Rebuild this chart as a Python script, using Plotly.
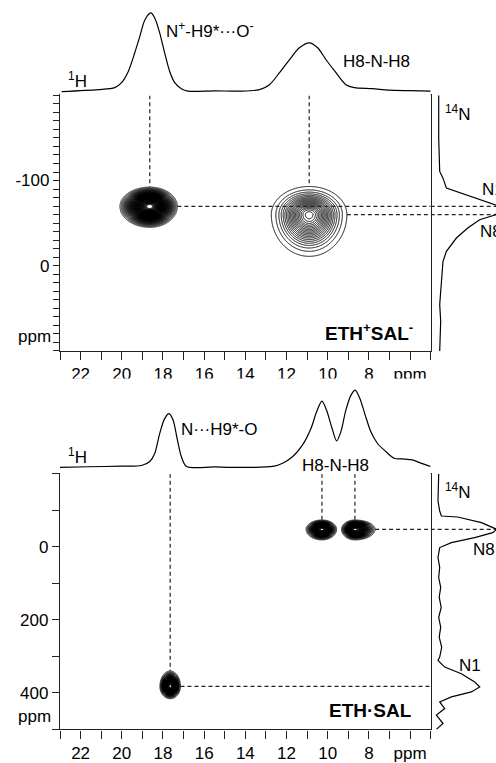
import numpy as np
import plotly.graph_objects as go

W, H = 496, 763
FONT = "Liberation Sans, Arial, sans-serif"

# ---------------- data ----------------
# 1H projection, ETH+SAL- (ppm, intensity in arbitrary units)
h1_top_ppm = [22.92, 21.15, 20.34, 20.01, 19.69, 19.37, 19.13, 18.88, 18.59, 18.40, 18.16, 17.92,
              17.67, 17.43, 17.11, 16.79, 15.5, 14.28, 13.31, 12.83, 12.34, 11.86, 11.38, 10.89,
              10.49, 10.08, 9.60, 9.12, 8.71, 7.83, 7.02, 6.0, 5.0]
h1_top_int = [0, 2, 4, 9, 20, 39, 55, 72, 79, 74, 59, 39,
              20, 9, 3, 0.5, 0.8, 0.5, 2, 7, 19, 32, 44, 49,
              44, 32, 19, 7, 4, 3, 1.5, 1, 0.5]

# 1H projection, ETH.SAL
h1_bot_ppm = [23.0, 21.63, 20.01, 19.04, 18.64, 18.40, 18.16, 17.92, 17.71, 17.51, 17.30, 17.11,
              16.86, 15.5, 14.28, 12.67, 12.19, 11.70, 11.22, 10.81, 10.54, 10.28, 10.06, 9.79,
              9.57, 9.36, 9.12, 8.87, 8.67, 8.44, 8.18, 7.91, 7.59, 7.18, 6.78, 6.38, 5.89, 5.48, 5.0]
h1_bot_int = [0, 0.7, 1.3, 2, 6, 14, 34, 49, 54, 47.6, 27.6, 11,
              1, 0.5, 0, 1, 4.3, 11, 22.6, 39.3, 56, 66.6, 57.6, 39.3,
              26.6, 36, 57.6, 72.6, 77.6, 69.3, 52.6, 36, 24.3, 16, 9.3, 8.6, 7.6, 4.3, 1]

# 14N projection, ETH+SAL- (ppm, intensity)
n14_top_ppm = [-200, -149.7, -110.7, -102.8, -91.1, -83.2, -75.5, -70.8, -65.6, -59.8, -53.9,
               -44.2, -32.5, -16.9, -5.2, 26.1, 45.7, 65.2, 100]
n14_top_int = [8, 8, 9, 12.3, 15.7, 36, 55, 66, 68, 65, 49,
               37, 25.7, 15.7, 12.3, 10.7, 9, 10, 9]

# 14N projection, ETH.SAL
n14_bot_ppm = [-200, -125.4, -98.2, -84.5, -81.8, -66.3, -48.0, -39.0, -25.4, -11.7, 1.9, 29.2,
               56, 84, 111, 138, 166, 193, 220, 247, 275, 302, 310.9, 329.2, 347.4, 370.0,
               383.7, 397.3, 411.0, 424.6, 442.9, 460.9, 483.8, 500]
n14_bot_int = [8, 7.3, 9, 10.7, 27, 50.7, 66, 62, 44, 20.7, 9, 7.3,
               9, 8, 10, 8.5, 10.5, 8, 10, 8.5, 11, 9, 7.3, 14, 30.7, 44,
               49, 40.7, 20.7, 9, 14, 5.7, 12.3, 5.7]

# 2D cross peaks: centre (1H ppm, 14N ppm) and outer-contour extents
top_cx = [18.64, 10.9]
top_cy = [-69.6, -60.0]
top_ext_left = [1.45, 1.84]    # towards higher 1H ppm
top_ext_right = [1.34, 1.83]   # towards lower 1H ppm
top_ext_up = [22.7, 33.0]      # towards more negative 14N ppm
top_ext_down = [24.6, 49.0]
top_nlev = [70, 20]
top_lw = [0.8, 1.0]
top_hline_peaks = [0, 1]
top_hline_to_proj = [True, True]

bot_cx = [17.65, 10.28, 8.68]
bot_cy = [382.0, -48.0, -48.0]
bot_ext_left = [0.5, 0.77, 0.65]
bot_ext_right = [0.5, 0.71, 0.98]
bot_ext_up = [42.0, 25.6, 25.6]
bot_ext_down = [34.0, 29.0, 29.0]
bot_nlev = [45, 45, 45]
bot_lw = [0.8, 0.8, 0.8]
bot_hline_peaks = [0, 2]
bot_hline_to_proj = [False, True]

x_tick_vals = list(range(5, 24))
top_y_tick_vals = list(range(-200, 101, 10))
top_y_labels = {-100: "-100", 0: "0"}
bot_y_tick_vals = list(range(-200, 501, 100))
bot_y_labels = {0: "0", 200: "200", 400: "400"}

# ---------------- layout geometry (pixels) ----------------
BOX_L, BOX_R = 60, 430.7
TOP_T, TOP_B = 95.7, 352.3
BOT_T, BOT_B = 475.7, 732.3


def px(x):
    return x / W


def py(y):
    return 1 - y / H


fig = go.Figure()

LEVEL0 = 0.05
FAC = np.sqrt(2 * np.log(1 / LEVEL0))


def add_peaks(cx, cy, el, er, eu, ed, nlev, xa, ya, ystep, lw):
    for i in range(len(cx)):
        xs = np.arange(cx[i] - 3 * el[i], cx[i] + 3 * er[i], 0.01)
        ys = np.arange(cy[i] - 3 * eu[i], cy[i] + 3 * ed[i], ystep)
        X, Y = np.meshgrid(xs, ys)
        sx = np.where(X > cx[i], el[i], er[i]) / FAC
        sy = np.where(Y < cy[i], eu[i], ed[i]) / FAC
        Z = np.exp(-0.5 * ((X - cx[i]) / sx) ** 2 - 0.5 * ((Y - cy[i]) / sy) ** 2)
        fig.add_trace(go.Contour(
            x=xs, y=ys, z=Z, xaxis=xa, yaxis=ya,
            contours=dict(start=LEVEL0, end=0.97, size=(0.97 - LEVEL0) / (nlev[i] - 1),
                          coloring="lines"),
            colorscale=[[0, "black"], [1, "black"]], showscale=False,
            line=dict(width=lw[i]), hoverinfo="skip"))


add_peaks(top_cx, top_cy, top_ext_left, top_ext_right, top_ext_up, top_ext_down,
          top_nlev, "x", "y", 0.5, top_lw)
add_peaks(bot_cx, bot_cy, bot_ext_left, bot_ext_right, bot_ext_up, bot_ext_down,
          bot_nlev, "x2", "y2", 1.0, bot_lw)

DASH = dict(color="#222", width=1.2, dash="4px,3px")


def add_dashes(cx, cy, er, eu, ytop, hpeaks, hproj, xa, ya, xproj):
    for i in range(len(cx)):
        fig.add_trace(go.Scatter(x=[cx[i], cx[i]], y=[ytop, cy[i] - eu[i]], mode="lines",
                                 line=DASH, xaxis=xa, yaxis=ya, hoverinfo="skip"))
    for k, i in enumerate(hpeaks):
        fig.add_trace(go.Scatter(x=[cx[i] - er[i], 5], y=[cy[i], cy[i]], mode="lines",
                                 line=DASH, xaxis=xa, yaxis=ya, hoverinfo="skip"))
        if hproj[k]:
            fig.add_trace(go.Scatter(x=[0, 80], y=[cy[i], cy[i]], mode="lines",
                                     line=DASH, xaxis=xproj, yaxis=ya, hoverinfo="skip"))


add_dashes(top_cx, top_cy, top_ext_right, top_ext_up, -200, top_hline_peaks,
           top_hline_to_proj, "x", "y", "x3")
add_dashes(bot_cx, bot_cy, bot_ext_right, bot_ext_up, -200, bot_hline_peaks,
           bot_hline_to_proj, "x2", "y2", "x4")

SPEC = dict(color="black", width=1.2)
fig.add_trace(go.Scatter(x=h1_top_ppm, y=h1_top_int, mode="lines", xaxis="x", yaxis="y3",
                         line=dict(SPEC, shape="spline", smoothing=0.8), hoverinfo="skip"))
fig.add_trace(go.Scatter(x=h1_bot_ppm, y=h1_bot_int, mode="lines", xaxis="x2", yaxis="y4",
                         line=dict(SPEC, shape="spline", smoothing=0.8), hoverinfo="skip"))
fig.add_trace(go.Scatter(x=n14_top_int, y=n14_top_ppm, mode="lines", xaxis="x3", yaxis="y",
                         line=SPEC, hoverinfo="skip"))
fig.add_trace(go.Scatter(x=n14_bot_int, y=n14_bot_ppm, mode="lines", xaxis="x4", yaxis="y2",
                         line=SPEC, hoverinfo="skip"))

tickfont = dict(family=FONT, size=17, color="black")
x_tick_text = ["ppm" if v == 6 else (str(v) if v % 2 == 0 and 8 <= v <= 22 else "")
               for v in x_tick_vals]
main_axis = dict(showline=True, linecolor="#222", linewidth=1.3, mirror=True,
                 ticks="outside", tickcolor="#222", tickwidth=1, showgrid=False,
                 zeroline=False, tickfont=tickfont)
xdom = [px(BOX_L), px(BOX_R)]
proj_axis = dict(visible=False, showgrid=False, zeroline=False)

fig.update_layout(
    width=W, height=H, autosize=False, margin=dict(l=0, r=0, t=0, b=0),
    paper_bgcolor="white", plot_bgcolor="white", showlegend=False,
    font=dict(family=FONT, color="black"),
    xaxis=dict(main_axis, domain=xdom, anchor="y", range=[23, 5], ticklen=8,
               tickvals=x_tick_vals, ticktext=x_tick_text),
    yaxis=dict(main_axis, domain=[py(TOP_B), py(TOP_T)], anchor="x", range=[100, -200],
               ticklen=6, tickvals=top_y_tick_vals,
               ticktext=[top_y_labels.get(v, "") for v in top_y_tick_vals]),
    xaxis2=dict(main_axis, domain=xdom, anchor="y2", range=[23, 5], ticklen=8,
                tickvals=x_tick_vals, ticktext=x_tick_text),
    yaxis2=dict(main_axis, domain=[py(BOT_B), py(BOT_T)], anchor="x2", range=[500, -200],
                ticklen=7, tickvals=bot_y_tick_vals,
                ticktext=[bot_y_labels.get(v, "") for v in bot_y_tick_vals]),
    yaxis3=dict(proj_axis, domain=[py(96), 1], anchor="x", range=[-4, 92]),
    yaxis4=dict(proj_axis, domain=[py(476), py(380)], anchor="x2", range=[-6.7, 89.3]),
    xaxis3=dict(proj_axis, domain=[px(BOX_R), 1], anchor="y", range=[0, W - BOX_R]),
    xaxis4=dict(proj_axis, domain=[px(BOX_R), 1], anchor="y2", range=[0, W - BOX_R]),
)


def ann(text, x, y, xanchor="left", size=17, bold=False):
    if bold:
        text = "<b>" + text + "</b>"
    fig.add_annotation(text=text, x=px(x), y=py(y), xref="paper", yref="paper",
                       xanchor=xanchor, yanchor="middle", showarrow=False,
                       font=dict(family=FONT, size=size, color="black"))


ann("<sup>1</sup>H", 66, 80)
ann("N<sup>+</sup>-H9*···O<sup>-</sup>", 164, 30)
ann("H8-N-H8", 341, 62)
ann("<sup>14</sup>N", 443, 113)
ann("N1", 480, 190)
ann("N8", 478, 232)
ann("ETH<sup>+</sup>SAL<sup>-</sup>", 415, 333, xanchor="right", size=19, bold=True)
ann("ppm", 53, 338, xanchor="right")

ann("<sup>1</sup>H", 66, 458)
ann("N···H9*-O", 179, 431)
ann("H8-N-H8", 300, 467)
ann("<sup>14</sup>N", 443, 493)
ann("N8", 471, 552)
ann("N1", 457, 668)
ann("ETH·SAL", 414, 713, xanchor="right", size=19, bold=True)
ann("ppm", 53, 719, xanchor="right")

fig.write_html("out.html")
